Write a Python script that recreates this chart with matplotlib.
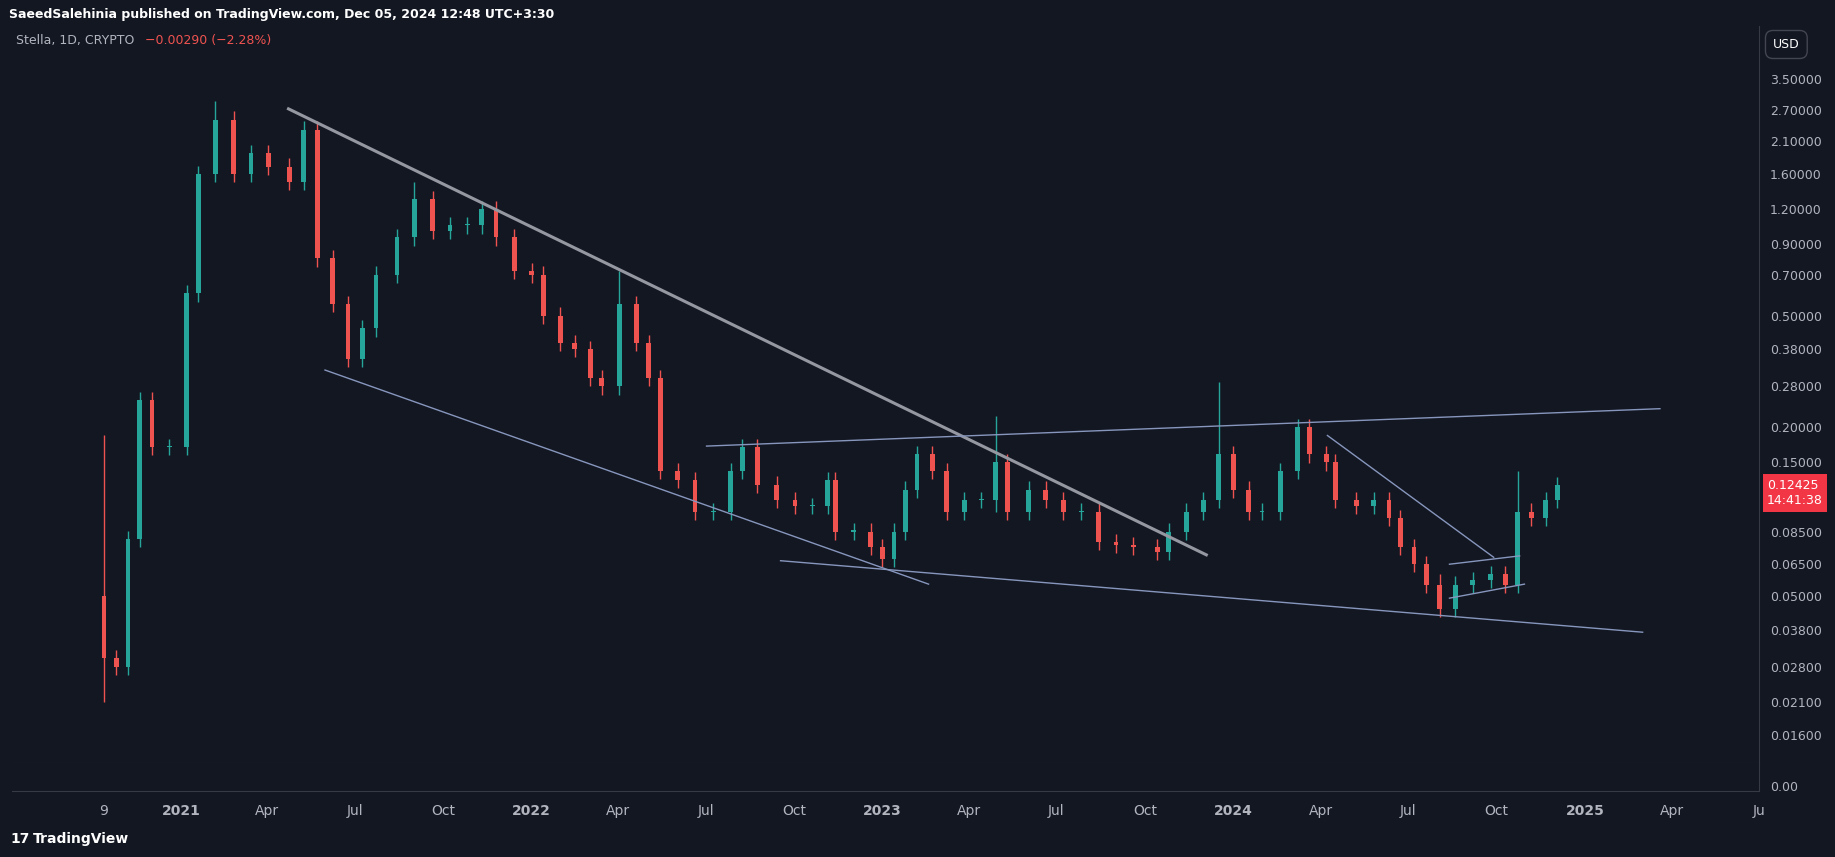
import matplotlib
matplotlib.use("Agg")
import matplotlib.pyplot as plt
import matplotlib.dates as mdates
import numpy as np

dates = ["2020-10-13","2020-10-26","2020-11-07","2020-11-19","2020-12-02","2020-12-20",
"2021-01-07","2021-01-19","2021-02-06","2021-02-25","2021-03-15","2021-04-02","2021-04-24",
"2021-05-09","2021-05-23","2021-06-08","2021-06-24","2021-07-09","2021-07-23","2021-08-14",
"2021-09-01","2021-09-20","2021-10-08","2021-10-26","2021-11-10","2021-11-25","2021-12-14",
"2022-01-01","2022-01-13","2022-01-31","2022-02-15","2022-03-03","2022-03-15","2022-04-02",
"2022-04-20","2022-05-03","2022-05-15","2022-06-02","2022-06-20","2022-07-09","2022-07-27",
"2022-08-08","2022-08-24","2022-09-13","2022-10-02","2022-10-20","2022-11-05","2022-11-13",
"2022-12-02","2022-12-20","2023-01-01","2023-01-13","2023-01-25","2023-02-06","2023-02-22",
"2023-03-09","2023-03-27","2023-04-14","2023-04-29","2023-05-11","2023-06-02","2023-06-20",
"2023-07-08","2023-07-27","2023-08-14","2023-09-01","2023-09-19","2023-10-14","2023-10-26",
"2023-11-13","2023-12-01","2023-12-17","2024-01-01","2024-01-17","2024-01-31","2024-02-19",
"2024-03-08","2024-03-20","2024-04-07","2024-04-16","2024-05-08","2024-05-26","2024-06-11",
"2024-06-23","2024-07-07","2024-07-20","2024-08-03","2024-08-19","2024-09-06","2024-09-25",
"2024-10-10","2024-10-23","2024-11-06","2024-11-21","2024-12-03"]
closes = [0.030,0.028,0.080,0.25,0.17,0.17,0.60,1.6,2.5,1.6,1.9,1.7,1.5,2.3,0.8,0.55,0.35,
0.45,0.7,0.95,1.3,1.0,1.05,1.05,1.2,0.95,0.72,0.70,0.50,0.40,0.38,0.30,0.28,0.55,0.40,0.30,
0.14,0.13,0.10,0.10,0.14,0.17,0.125,0.11,0.105,0.105,0.13,0.085,0.085,0.075,0.068,0.085,
0.12,0.16,0.14,0.10,0.11,0.11,0.15,0.10,0.12,0.11,0.10,0.10,0.078,0.076,0.075,0.072,0.085,
0.10,0.11,0.16,0.12,0.10,0.10,0.14,0.20,0.16,0.15,0.11,0.105,0.11,0.095,0.075,0.065,0.055,
0.045,0.055,0.057,0.060,0.055,0.10,0.095,0.11,0.1243]
first_open = 0.05
spike_dates = ["2020-10-13","2021-02-06","2021-09-01","2022-04-02","2023-04-29","2023-12-17","2024-10-23","2024-08-03"]
spike_highs = [0.187,2.9,1.5,0.72,0.22,0.29,0.14,0.06]
spike_lows = [0.0209,2.0,1.1,0.45,0.10,0.11,0.07,0.043]

trend_gray = ("2021-04-23", 2.73, "2023-12-04", 0.0702)
trend_lines = [("2021-05-31",0.32,"2023-02-18",0.0552),
               ("2022-09-17",0.0669,"2025-03-02",0.0372),
               ("2022-07-02",0.1714,"2025-03-20",0.233),
               ("2024-04-08",0.187,"2024-09-28",0.0688),
               ("2024-08-13",0.0492,"2024-10-30",0.0552),
               ("2024-08-13",0.065,"2024-10-25",0.0696)]

ytick_vals = [3.5,2.7,2.1,1.6,1.2,0.9,0.7,0.5,0.38,0.28,0.2,0.15,0.085,0.065,0.05,0.038,0.028,0.021,0.016]
xtick_dates = ["2020-10-13","2021-01-01","2021-04-01","2021-07-01","2021-10-01","2022-01-01","2022-04-01",
"2022-07-01","2022-10-01","2023-01-01","2023-04-01","2023-07-01","2023-10-01","2024-01-01","2024-04-01",
"2024-07-01","2024-10-01","2025-01-01","2025-04-01","2025-07-01"]
xtick_labels = ["9","2021","Apr","Jul","Oct","2022","Apr","Jul","Oct","2023","Apr","Jul","Oct","2024","Apr","Jul","Oct","2025","Apr","Ju"]

BG = "#131722"; GRID = "#2a2e39"; TXT = "#b2b5be"
UP = "#26a69a"; DN = "#ef5350"

RW, RH = 1568, 732
fig = plt.figure(figsize=(18.35, 8.57), dpi=100, facecolor=BG)
ax = fig.add_axes([10/RW, (RH-652)/RH, 1493/RW, 630/RH], facecolor=BG)
ax2 = fig.add_axes([10/RW, (RH-676)/RH, 1493/RW, 24/RH], facecolor=BG, sharex=ax)

d = mdates.datestr2num(dates)
c = np.array(closes)
o = np.concatenate([[first_open], c[:-1]])
hi = np.maximum(o, c) * 1.07
lo = np.minimum(o, c) / 1.07
sd = list(mdates.datestr2num(spike_dates))
for i, dd in enumerate(d):
    if dd in sd:
        k = sd.index(dd)
        hi[i] = max(hi[i], spike_highs[k]); lo[i] = min(lo[i], spike_lows[k])
for i in range(len(d)):
    col = UP if c[i] >= o[i] else DN
    ax.vlines(d[i], lo[i], hi[i], color=col, lw=1, zorder=3)
    h = abs(c[i]-o[i]) if abs(c[i]-o[i]) > 0 else c[i]*0.01
    ax.bar(d[i], h, bottom=min(o[i], c[i]), width=5, color=col, zorder=4)

def line(t, **kw):
    ax.plot(mdates.datestr2num([t[0], t[2]]), [t[1], t[3]], **kw)
line(trend_gray, color="#9598a1", lw=2.2, zorder=5)
for t in trend_lines:
    line(t, color="#8796bd", lw=1, zorder=5)

ax.set_yscale("log")
ax.set_ylim(0.01268, 5.4)
ax.set_xlim(mdates.datestr2num("2020-07-09"), mdates.datestr2num("2025-06-29"))
ax.yaxis.tick_right()
ax.set_yticks(ytick_vals)
ax.set_yticklabels([f"{v:.5f}" for v in ytick_vals])
ax.yaxis.set_minor_locator(matplotlib.ticker.NullLocator())
ax.tick_params(axis="y", colors=TXT, labelsize=9, length=0, pad=8)
ax.tick_params(axis="x", bottom=False, labelbottom=False)
for a in (ax, ax2):
    for s in a.spines.values(): s.set_color("#363a45")
    a.spines["top"].set_visible(False)
    a.spines["left"].set_visible(False)
ax2.set_yticks([0.2]); ax2.set_yticklabels(["0.00"]); ax2.set_ylim(0, 1)
ax2.yaxis.tick_right()
ax2.tick_params(axis="y", colors=TXT, labelsize=9, length=0, pad=8)
ax2.set_xticks(mdates.datestr2num(xtick_dates))
ax2.set_xticklabels(xtick_labels)
ax2.tick_params(axis="x", colors=TXT, labelsize=10, length=0, pad=9)
for lab in ax2.get_xticklabels():
    if lab.get_text().isdigit() and len(lab.get_text()) == 4:
        lab.set_fontweight("bold")

fig.text(8/RW, 1-12/RH, "SaeedSalehinia published on TradingView.com, Dec 05, 2024 12:48 UTC+3:30",
         color="white", fontsize=9, fontweight="bold", va="center")
fig.text(14/RW, 1-35/RH, "Stella, 1D, CRYPTO", color=TXT, fontsize=9, va="center")
fig.text(124/RW, 1-35/RH, "\u22120.00290 (\u22122.28%)", color=DN, fontsize=9, va="center")
fig.text(28/RW, 1-717/RH, "TradingView", color="white", fontsize=10, fontweight="bold", va="center")
fig.text(9/RW, 1-717/RH, "17", color="white", fontsize=10, fontweight="black", va="center")
fig.text(1515/RW, 1-38/RH, "USD", color="white", fontsize=9, va="center",
         bbox=dict(boxstyle="round,pad=0.6", fc=BG, ec="#434651"))
fig.text(1510/RW, 1-421/RH, "0.12425\n14:41:38", color="white", fontsize=9, va="center",
         linespacing=1.25, bbox=dict(boxstyle="square,pad=0.35", fc="#f23645", ec="none"))
fig.savefig("out.png", dpi=100, facecolor=BG)
